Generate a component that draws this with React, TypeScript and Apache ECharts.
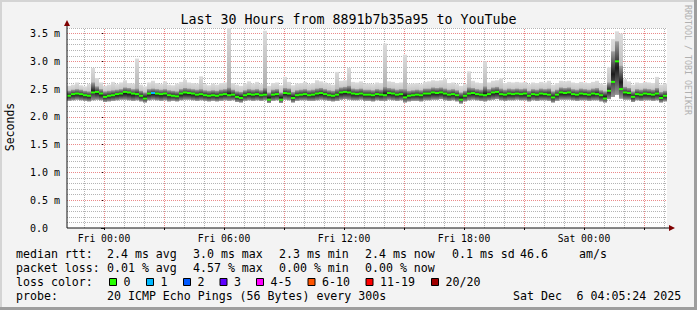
import React, { useEffect, useRef } from 'react';
import * as echarts from 'echarts';

// time axis in hours relative to Fri 00:00
const START_HOUR = -1.85;
const END_HOUR = 28.15;
const STEP_HOURS = 0.2;

// RTT values in hundredths of a millisecond
const medianRtt = [
  238, 241, 242, 241, 239, 238, 244, 245, 242, 236,
  238, 239, 241, 242, 245, 244, 242, 241, 238, 233,
  242, 243, 242, 241, 242, 239, 238, 237, 242, 244,
  243, 242, 240, 241, 239, 238, 239, 238, 240, 241,
  239, 240, 236, 234, 239, 241, 240, 241, 239, 240,
  231, 240, 241, 231, 243, 242, 234, 239, 240, 241,
  239, 240, 242, 243, 241, 239, 238, 240, 244, 245,
  244, 242, 241, 242, 240, 240, 239, 241, 240, 239,
  243, 242, 240, 241, 235, 238, 239, 240, 239, 242,
  242, 244, 243, 244, 242, 240, 241, 239, 231, 238,
  242, 243, 241, 240, 239, 241, 244, 245, 241, 240,
  242, 241, 242, 241, 242, 238, 241, 240, 242, 241,
  240, 235, 240, 244, 243, 244, 241, 240, 242, 241,
  240, 242, 241, 239, 233, 247, 263, 300, 250, 244,
  243, 236, 241, 240, 242, 241, 240, 242, 234, 238,
];
const minRtt = [
  229, 230, 231, 230, 229, 228, 230, 231, 230, 227,
  228, 229, 230, 231, 231, 230, 229, 230, 228, 226,
  230, 231, 230, 229, 230, 228, 229, 228, 230, 231,
  231, 230, 229, 230, 229, 228, 229, 228, 229, 230,
  229, 230, 227, 226, 229, 230, 229, 230, 229, 230,
  225, 229, 230, 225, 231, 230, 226, 229, 230, 230,
  229, 229, 230, 231, 230, 229, 228, 229, 231, 232,
  231, 230, 230, 231, 229, 229, 228, 230, 229, 229,
  231, 230, 229, 230, 226, 228, 229, 229, 228, 230,
  230, 231, 231, 232, 230, 229, 230, 228, 224, 228,
  230, 231, 230, 229, 228, 230, 231, 232, 230, 229,
  230, 230, 231, 230, 230, 228, 230, 229, 230, 230,
  229, 226, 229, 231, 231, 231, 230, 229, 230, 230,
  229, 230, 230, 228, 226, 232, 236, 240, 233, 231,
  231, 227, 230, 229, 230, 230, 229, 230, 226, 228,
];
const bandHighRtt = [
  247, 249, 250, 249, 247, 246, 262, 255, 250, 246,
  247, 248, 249, 250, 253, 252, 250, 251, 247, 244,
  250, 251, 250, 249, 250, 248, 247, 246, 250, 252,
  251, 250, 249, 250, 248, 247, 248, 247, 249, 250,
  253, 249, 246, 245, 248, 250, 249, 250, 248, 252,
  244, 249, 250, 244, 252, 251, 245, 248, 249, 250,
  248, 249, 251, 252, 250, 248, 247, 250, 253, 254,
  256, 251, 250, 251, 249, 249, 248, 250, 249, 254,
  252, 251, 249, 250, 250, 247, 248, 249, 248, 251,
  251, 253, 252, 253, 251, 249, 250, 248, 244, 247,
  253, 252, 250, 249, 255, 250, 253, 254, 251, 249,
  251, 250, 251, 250, 251, 247, 250, 249, 251, 250,
  251, 246, 249, 253, 252, 253, 250, 249, 251, 250,
  249, 251, 252, 248, 246, 262, 318, 336, 292, 254,
  252, 246, 250, 249, 251, 250, 249, 252, 245, 247,
];
const maxRtt = [
  256, 258, 262, 257, 255, 259, 288, 270, 262, 256,
  258, 263, 259, 262, 266, 261, 260, 305, 258, 255,
  262, 265, 261, 259, 264, 258, 257, 260, 263, 267,
  262, 261, 260, 273, 259, 257, 260, 258, 261, 262,
  360, 261, 258, 256, 260, 264, 260, 263, 259, 355,
  256, 261, 262, 257, 272, 263, 257, 260, 261, 263,
  259, 261, 266, 264, 262, 260, 258, 281, 265, 266,
  288, 263, 262, 264, 260, 260, 259, 262, 261, 332,
  264, 263, 261, 262, 312, 259, 260, 261, 259, 263,
  264, 266, 265, 266, 268, 261, 262, 259, 256, 259,
  282, 265, 262, 261, 300, 262, 265, 266, 270, 261,
  263, 262, 263, 262, 263, 259, 262, 261, 263, 262,
  265, 258, 261, 265, 264, 265, 262, 261, 263, 262,
  261, 263, 265, 260, 258, 290, 340, 354, 350, 268,
  264, 258, 262, 261, 263, 262, 261, 272, 258, 260,
];
// [sample index, pings lost]
const lossEvents = [[21, 1]];

const xLabelValues = [0, 6, 12, 18, 24];
const xLabelTexts = ['Fri 00:00', 'Fri 06:00', 'Fri 12:00', 'Fri 18:00', 'Sat 00:00'];
const xMajorGrid = [0, 3, 6, 9, 12, 15, 18, 21, 24, 27];
const xMinorGrid = [-1, 1, 2, 4, 5, 7, 8, 10, 11, 13, 14, 16, 17, 19, 20, 22, 23, 25, 26, 28];
const yTickValues = [0, 0.5, 1, 1.5, 2, 2.5, 3, 3.5];
const yLabelValues = [0.5, 1, 1.5, 2, 2.5, 3, 3.5];
const yZeroLabel = [0];
const yMajorGrid = [0.5, 1, 1.5, 2, 2.5, 3, 3.5];
const yMinorGrid = [
  0.1, 0.2, 0.3, 0.4, 0.6, 0.7, 0.8, 0.9, 1.1, 1.2, 1.3, 1.4, 1.6, 1.7, 1.8, 1.9,
  2.1, 2.2, 2.3, 2.4, 2.6, 2.7, 2.8, 2.9, 3.1, 3.2, 3.3, 3.4, 3.6,
];

const lossLabels = ['0', '1', '2', '3', '4-5', '6-10', '11-19', '20/20'];
const lossColors = ['#26ff00', '#00b8ff', '#0059ff', '#5e00ff', '#ff00ff', '#ff5500', '#ff0000', '#a00000'];

const titleText = 'Last 30 Hours from 8891b7b35a95 to YouTube';
const rttStats = ['2.4 ms avg', '3.0 ms max', '2.3 ms min', '2.4 ms now', '0.1 ms sd'];
const rttExtra = ['46.6', 'am/s'];
const lossStats = ['0.01 % avg', '4.57 % max', '0.00 % min', '0.00 % now'];
const probeText = '20 ICMP Echo Pings (56 Bytes) every 300s';
const dateParts = ['Sat Dec', '6 04:05:24 2025'];

const FONT = '"DejaVu Sans Mono", monospace';

function lossColorIndex(lost: number): number {
  if (lost <= 0) return 0;
  if (lost <= 3) return lost;
  if (lost <= 5) return 4;
  if (lost <= 10) return 5;
  if (lost <= 19) return 6;
  return 7;
}

export default function App() {
  const ref = useRef<HTMLDivElement>(null);
  useEffect(() => {
    if (!ref.current) return;
    const chart = echarts.init(ref.current, undefined, { renderer: 'svg' });

    const lossByIndex: Record<number, number> = {};
    lossEvents.forEach(([i, n]) => { lossByIndex[i] = n; });

    const data = medianRtt.map((m, i) => [
      START_HOUR + STEP_HOURS * (i + 0.5),
      minRtt[i] / 100,
      bandHighRtt[i] / 100,
      maxRtt[i] / 100,
      m / 100,
      lossByIndex[i] || 0,
    ]);

    const grayLine = { color: '#b4b4b4', width: 1, type: [1, 1] as any };
    const redLine = { color: '#ea8a8a', width: 1, type: [1, 1] as any };
    const gridLines: any[] = [];
    xMinorGrid.forEach((h) => gridLines.push({ xAxis: h, lineStyle: grayLine }));
    yMinorGrid.forEach((v) => gridLines.push({ yAxis: v, lineStyle: grayLine }));
    xMajorGrid.forEach((h) => gridLines.push({ xAxis: h, lineStyle: redLine }));
    yMajorGrid.forEach((v) => gridLines.push({ yAxis: v, lineStyle: redLine }));

    const lightGrad = new echarts.graphic.LinearGradient(0, 0, 0, 1, [
      { offset: 0, color: '#dcdcdc' },
      { offset: 1, color: '#a4a4a4' },
    ]);
    const darkGrad = new echarts.graphic.LinearGradient(0, 0, 0, 1, [
      { offset: 0, color: '#a0a0a0' },
      { offset: 0.3, color: '#505050' },
      { offset: 0.5, color: '#1c1c1c' },
      { offset: 0.7, color: '#4a4a4a' },
      { offset: 1, color: '#969696' },
    ]);

    const graphics: any[] = [];
    const txt = (x: number, y: number, text: string, size: number, extra: any = {}) => ({
      type: 'text',
      x,
      y,
      z: 10,
      style: {
        text,
        fill: extra.fill || '#000',
        font: `${size}px ${FONT}`,
        textAlign: extra.align || 'left',
        textVerticalAlign: 'middle',
        verticalAlign: 'middle',
      },
      rotation: extra.rotation || 0,
      silent: true,
    });
    // frame shading
    graphics.push({ type: 'rect', shape: { x: 0, y: 0, width: 697, height: 2 }, style: { fill: '#d4d4d4' }, silent: true });
    graphics.push({ type: 'rect', shape: { x: 0, y: 0, width: 2, height: 310 }, style: { fill: '#d4d4d4' }, silent: true });
    graphics.push({ type: 'rect', shape: { x: 0, y: 307, width: 697, height: 3 }, style: { fill: '#9e9e9e' }, silent: true });
    graphics.push({ type: 'rect', shape: { x: 694, y: 0, width: 3, height: 310 }, style: { fill: '#9e9e9e' }, silent: true });
    // title and side texts
    graphics.push(txt(348.5, 19, titleText, 13.3, { align: 'center' }));
    graphics.push(txt(10, 127, 'Seconds', 11.5, { align: 'center', rotation: Math.PI / 2 }));
    graphics.push(txt(688, 60, 'RRDTOOL / TOBI OETIKER', 8.3, { align: 'center', rotation: -Math.PI / 2, fill: '#b0b0b0' }));
    // axis lines, extensions and arrows
    graphics.push({ type: 'line', shape: { x1: 67, y1: 228, x2: 67, y2: 24 }, style: { stroke: '#111', lineWidth: 1 }, z: 9, silent: true });
    graphics.push({ type: 'line', shape: { x1: 67, y1: 228, x2: 670, y2: 228 }, style: { stroke: '#111', lineWidth: 1 }, z: 9, silent: true });
    graphics.push({ type: 'polygon', shape: { points: [[67, 20], [64, 26], [70, 26]] }, style: { fill: '#7f0000' }, z: 9, silent: true });
    graphics.push({ type: 'polygon', shape: { points: [[675, 228], [669, 225], [669, 231]] }, style: { fill: '#7f0000' }, z: 9, silent: true });

    // legend
    const LF = 11.6;
    const statCols = [107, 193, 279, 365, 452];
    graphics.push(txt(16, 254, 'median rtt:', LF));
    rttStats.forEach((s, i) => graphics.push(txt(statCols[i], 254, s, LF)));
    graphics.push(txt(520, 254, rttExtra[0], LF));
    graphics.push(txt(579, 254, rttExtra[1], LF));
    graphics.push(txt(16, 268, 'packet loss:', LF));
    lossStats.forEach((s, i) => graphics.push(txt(statCols[i], 268, s, LF)));
    graphics.push(txt(16, 282, 'loss color:', LF));
    const swatchX = [109, 146, 183, 219.5, 256, 307.5, 365.5, 431];
    lossLabels.forEach((lab, i) => {
      graphics.push({
        type: 'rect',
        shape: { x: swatchX[i] + 0.5, y: 278.5, width: 7, height: 7 },
        style: { fill: lossColors[i], stroke: '#000', lineWidth: 1 },
        z: 10,
        silent: true,
      });
      graphics.push(txt(swatchX[i] + 14.5, 282, lab, LF));
    });
    graphics.push(txt(16, 296, 'probe:', LF));
    graphics.push(txt(107, 296, probeText, LF));
    graphics.push(txt(513, 296, dateParts[0], LF));
    graphics.push(txt(576.5, 296, dateParts[1], LF));

    const halfStep = STEP_HOURS / 2;

    chart.setOption({
      animation: false,
      backgroundColor: '#f3f3f3',
      textStyle: { fontFamily: FONT },
      grid: {
        left: 67,
        right: 30,
        top: 28,
        bottom: 82,
        show: true,
        backgroundColor: '#ffffff',
        borderWidth: 0,
        containLabel: false,
      },
      xAxis: {
        type: 'value',
        min: START_HOUR,
        max: END_HOUR,
        axisLine: { show: false },
        axisTick: {
          show: true,
          customValues: xMajorGrid,
          length: 2,
          lineStyle: { color: '#111' },
        },
        axisLabel: {
          show: true,
          customValues: xLabelValues,
          margin: 5,
          color: '#000',
          fontFamily: FONT,
          fontSize: 9.7,
          formatter: (v: number) => {
            const idx = xLabelValues.indexOf(Math.round(v));
            return idx >= 0 ? xLabelTexts[idx] : '';
          },
        },
        splitLine: { show: false },
      },
      yAxis: [
        {
          type: 'value',
          min: 0,
          max: 3.6,
          axisLine: { show: false },
          axisTick: {
            show: true,
            customValues: yTickValues,
            length: 3,
            lineStyle: { color: '#111' },
          },
          axisLabel: {
            show: true,
            customValues: yLabelValues,
            margin: 7,
            color: '#000',
            fontFamily: FONT,
            fontSize: 10,
            formatter: (v: number) => v.toFixed(1) + ' m',
          },
          splitLine: { show: false },
        },
        {
          type: 'value',
          position: 'left',
          min: 0,
          max: 3.6,
          axisLine: { show: false },
          axisTick: { show: false },
          axisLabel: {
            show: true,
            customValues: yZeroLabel,
            margin: 19,
            color: '#000',
            fontFamily: FONT,
            fontSize: 10,
            formatter: (v: number) => v.toFixed(1),
          },
          splitLine: { show: false },
        },
      ],
      series: [
        {
          type: 'custom',
          z: 3,
          clip: true,
          silent: true,
          yAxisIndex: 0,
          encode: { x: 0, y: [1, 2, 3, 4] },
          data,
          renderItem: (params: any, api: any) => {
            const t = api.value(0);
            const lo = api.value(1);
            const hi = api.value(2);
            const top = api.value(3);
            const med = api.value(4);
            const lost = api.value(5);
            const pL = api.coord([t - halfStep, lo]);
            const pR = api.coord([t + halfStep, lo]);
            const yHi = api.coord([t, hi])[1];
            const yTop = api.coord([t, top])[1];
            const yMed = api.coord([t, med])[1];
            const x0 = pL[0];
            const w = pR[0] - pL[0];
            return {
              type: 'group',
              children: [
                { type: 'rect', shape: { x: x0, y: yTop, width: w, height: pL[1] - yTop }, style: { fill: lightGrad } },
                { type: 'rect', shape: { x: x0, y: yHi, width: w, height: pL[1] - yHi }, style: { fill: darkGrad } },
                { type: 'rect', shape: { x: x0, y: yMed - 1, width: w, height: 2 }, style: { fill: lossColors[lossColorIndex(lost)] } },
              ],
            };
          },
          markLine: {
            silent: true,
            symbol: 'none',
            z: 1,
            animation: false,
            label: { show: false },
            emphasis: { disabled: true },
            data: gridLines,
          },
        },
      ],
      graphic: graphics,
    });

    return () => chart.dispose();
  }, []);

  return (
    <div
      ref={ref}
      style={{ position: 'absolute', left: 0, top: 0, width: 697, height: 310 }}
    />
  );
}
